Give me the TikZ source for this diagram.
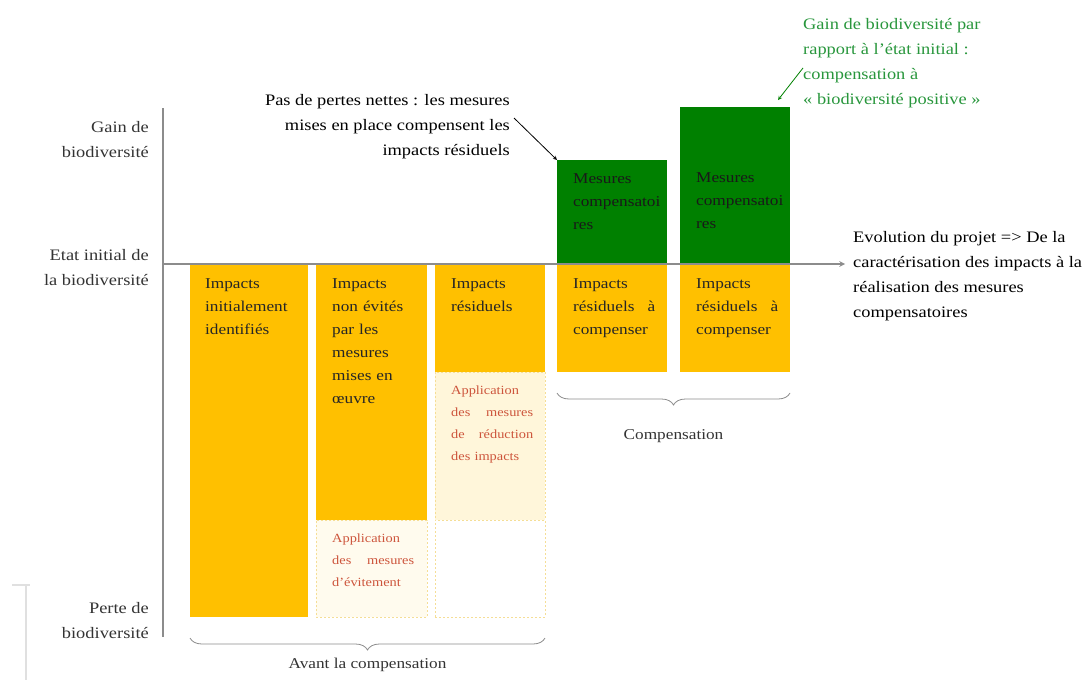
\documentclass[tikz,border=0pt]{standalone}
\usepackage{fontspec}
\setmainfont{Liberation Serif}[FakeStretch=1.15]
\usetikzlibrary{arrows, positioning, decorations.pathreplacing}

\definecolor{impactorange}{RGB}{255,192,0}
\definecolor{gaingreen}{RGB}{0,128,0}
\definecolor{notegreen}{RGB}{40,150,60}
\definecolor{mesurered}{RGB}{205,85,60}
\definecolor{paleyellow}{RGB}{255,246,218}
\definecolor{palecream}{RGB}{255,251,238}
\definecolor{dashyellow}{RGB}{245,222,150}
\definecolor{axisgray}{RGB}{140,140,140}

\begin{document}
\begin{tikzpicture}[x=1pt, y=-1pt]
    % Styles
    \tikzstyle{impactbar} = [rectangle, inner sep=0pt, outer sep=0pt, minimum width=110pt, fill=impactorange]
    \tikzstyle{gainbar} = [impactbar, fill=gaingreen]
    \tikzstyle{mesurebox} = [impactbar, fill=palecream, draw=dashyellow, dash pattern=on 2pt off 2pt]
    \tikzstyle{bartext} = [inner sep=0pt, text width=82pt, align=left, text=black!85, font=\fontsize{15}{23}\selectfont]
    \tikzstyle{gaintext} = [bartext, text width=90pt, text=black!90]
    \tikzstyle{redtext} = [bartext, text=mesurered, font=\fontsize{12.5}{22}\selectfont]
    \tikzstyle{axislabel} = [inner sep=0pt, anchor=east, align=right, text=black!80, font=\fontsize{16}{25}\selectfont]
    \tikzstyle{notetext} = [inner sep=0pt, font=\fontsize{16}{25}\selectfont]
    \tikzstyle{axisline} = [line width=1.5pt, draw=axisgray]
    \tikzstyle{arrow} = [thick,->,>=stealth]
    \tikzstyle{brace} = [decorate, decoration={brace, mirror, amplitude=12pt}, thick, draw=axisgray]

    \useasboundingbox (0,0) rectangle (1086,680);

    % Barres d'impacts
    \node (b1) [impactbar, anchor=north west, minimum width=118pt, minimum height=353pt] at (190,264) {};
    \node (b2) [impactbar, minimum width=111pt, minimum height=256pt, right=8pt of b1.north east, anchor=north west] {};
    \node (e2) [mesurebox, minimum width=111pt, minimum height=97pt, below=0pt of b2] {};
    \node (b3) [impactbar, minimum height=108pt, right=8pt of b2.north east, anchor=north west] {};
    \node (r3) [mesurebox, fill=paleyellow, minimum height=148pt, below=0pt of b3] {};
    \node (w3) [mesurebox, fill=white, minimum height=97pt, below=0pt of r3] {};
    \node (b4) [impactbar, minimum height=108pt, right=12pt of b3.north east, anchor=north west] {};
    \node (b5) [impactbar, minimum height=108pt, right=13pt of b4.north east, anchor=north west] {};

    % Mesures compensatoires
    \node (g4) [gainbar, minimum height=104pt, above=0pt of b4] {};
    \node (g5) [gainbar, minimum height=157pt, above=0pt of b5] {};

    % Textes des barres
    \node (t1) [bartext, below right=14pt and 15pt of b1.north west] {Impacts\\initialement\\identifiés};
    \node (t2) [bartext, below right=14pt and 16pt of b2.north west] {Impacts\\non évités\\par les\\mesures\\mises en\\œuvre};
    \node (te2) [redtext, below right=14pt and 16pt of e2.north west] {Application\\des \hfill mesures\\d'évitement};
    \node (t3) [bartext, below right=14pt and 16pt of b3.north west] {Impacts\\résiduels};
    \node (tr3) [redtext, below right=14pt and 16pt of r3.north west] {Application\\des \hfill mesures\\de \hfill réduction\\des impacts};
    \node (t4) [bartext, below right=14pt and 16pt of b4.north west] {Impacts\\résiduels \hfill à\\compenser};
    \node (t5) [bartext, below right=14pt and 16pt of b5.north west] {Impacts\\résiduels \hfill à\\compenser};
    \node (tg4) [gaintext, below right=13pt and 16pt of g4.north west] {Mesures\\compensatoi\\res};
    \node (tg5) [gaintext, below right=65pt and 16pt of g5.north west] {Mesures\\compensatoi\\res};

    % Axes
    \coordinate (o) at (163,264);
    \coordinate (ytop) at (163,108);
    \coordinate (ybot) at (163,637);
    \coordinate (xend) at (845,264);
    \draw [axisline] (ytop) -- (ybot);
    \draw [axisline, ->, >=stealth] (o) -- (xend);

    \node (gain) [axislabel] at (149,140) {Gain de\\biodiversité};
    \node (etat) [axislabel] at (149,268) {Etat initial de\\la biodiversité};
    \node (perte) [axislabel] at (149,621) {Perte de\\biodiversité};

    % Annotations
    \node (pertes) [notetext, align=right, anchor=east] at (510,127) {Pas de pertes nettes : les mesures\\mises en place compensent les\\impacts résiduels};
    \node (positif) [notetext, align=left, anchor=north west, text=notegreen] at (803,18) {Gain de biodiversité par\\rapport à l'état initial :\\compensation à\\« biodiversité positive »};
    \node (evol) [notetext, align=left, anchor=north west] at (853,231) {Evolution du projet => De la\\caractérisation des impacts à la\\réalisation des mesures\\compensatoires};

    % Flèches
    \draw [arrow] ([shift={(4pt,9pt)}]pertes.east) -- (g4.north west);
    \draw [arrow, draw=gaingreen] ([yshift=-5pt]positif.west) -- ([shift={(-12pt,7pt)}]g5.north east);

    % Accolades
    \draw [brace] ([yshift=-21pt]b1.south west) -- ([yshift=-21pt]w3.south east) node (avant) [midway, below=20pt, inner sep=0pt, text=black!80, font=\fontsize{15}{18}\selectfont] {Avant la compensation};
    \draw [brace] ([yshift=-21pt]b4.south west) -- ([yshift=-21pt]b5.south east) node (comp) [midway, below=36pt, inner sep=0pt, text=black!80, font=\fontsize{15}{18}\selectfont] {Compensation};

    % Trait gris en bas à gauche
    \draw [line width=2pt, black!12] (12,585) -- (30,585);
    \draw [line width=2pt, black!12] (26,585) -- (26,680);
\end{tikzpicture}
\end{document}
